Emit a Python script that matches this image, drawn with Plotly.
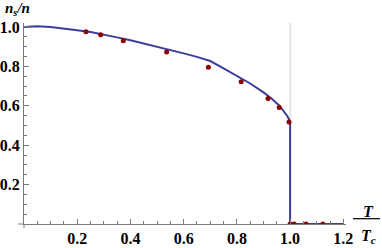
import plotly.graph_objects as go

# Theory curve (reduced temperature vs superfluid fraction)
curve_x = [0, 0.025, 0.05, 0.1, 0.15, 0.2, 0.25, 0.3, 0.35, 0.4, 0.45, 0.5, 0.55, 0.6,
           0.65, 0.7, 0.75, 0.8, 0.85, 0.9, 0.93, 0.96, 0.98, 0.99, 0.997, 1.0, 1.0, 1.2]
curve_y = [1.0, 1.003, 1.004, 1.0, 0.993, 0.983, 0.974, 0.962, 0.947, 0.932, 0.916, 0.9, 0.883, 0.866,
           0.848, 0.827, 0.79, 0.752, 0.713, 0.668, 0.637, 0.6, 0.567, 0.547, 0.528, 0.515, 0.0, 0.0]

# Measured points
data_x = [0.233, 0.288, 0.373, 0.536, 0.693, 0.816, 0.917, 0.959, 0.996, 1.0, 1.015, 1.06, 1.123]
data_y = [0.976, 0.961, 0.930, 0.873, 0.796, 0.722, 0.637, 0.591, 0.518, 0.0, 0.0, 0.0, 0.0]

x_ticks = [0.2, 0.4, 0.6, 0.8, 1.0, 1.2]
y_ticks = [0.2, 0.4, 0.6, 0.8, 1.0]

FONT = "Liberation Serif, Times New Roman, Times, serif"
AX = "#7a7a7a"

fig = go.Figure()
fig.add_trace(go.Scatter(x=curve_x, y=curve_y, mode="lines",
                         line=dict(color="#3d3d9e", width=2), hoverinfo="skip"))
fig.add_trace(go.Scatter(x=data_x, y=data_y, mode="markers",
                         marker=dict(color="#8b0000", size=5)))

W, H = 382, 248
ml, mr, mt, mb = 24, 36, 23, 24

fig.update_layout(
    template="none",
    width=W, height=H, showlegend=False,
    margin=dict(l=ml, r=mr, t=mt, b=mb),
    paper_bgcolor="white", plot_bgcolor="white",
    font=dict(family=FONT, size=16, color="black"),
    xaxis=dict(range=[0, 1.21], tickvals=x_ticks, ticktext=["<b>%.1f</b>" % v for v in x_ticks],
               automargin=False,
               showgrid=False, zeroline=False, showline=True, linecolor=AX, linewidth=1,
               ticks="inside", ticklen=5, tickcolor=AX, tickfont=dict(family=FONT, size=16),
               minor=dict(ticks="inside", dtick=0.05, ticklen=3, tickcolor=AX, showgrid=False)),
    yaxis=dict(range=[0, 1.02], tickvals=y_ticks, ticktext=["<b>%.1f</b>" % v for v in y_ticks],
               automargin=False,
               showgrid=False, zeroline=False, showline=True, linecolor=AX, linewidth=1,
               ticks="inside", ticklen=5, tickcolor=AX, tickfont=dict(family=FONT, size=16),
               minor=dict(ticks="inside", dtick=0.05, ticklen=3, tickcolor=AX, showgrid=False)),
)

pw = W - ml - mr
ph = H - mt - mb
# vertical reference line at T = Tc
fig.add_shape(type="line", xref="x", yref="paper", x0=1.0, x1=1.0, y0=0, y1=1,
              line=dict(color="#cccccc", width=1), layer="below")
# small axis overhangs (Mathematica-style crossing axes)
fig.add_shape(type="line", xref="paper", yref="paper", x0=-6 / pw, x1=0, y0=0, y1=0,
              line=dict(color=AX, width=1))
fig.add_shape(type="line", xref="paper", yref="paper", x0=0, x1=0, y0=-4 / ph, y1=0,
              line=dict(color=AX, width=1))

# axis labels
fig.add_annotation(xref="paper", yref="paper", x=(3 - ml) / pw, y=(H - mb - 9.5) / ph,
                   xanchor="left", yanchor="middle",
                   text="<b><i>n<sub>s</sub>/n</i></b>", showarrow=False, font=dict(family=FONT, size=15))
fig.add_annotation(xref="paper", yref="paper", x=(368 - ml) / pw, y=(H - mb - 211) / ph,
                   xanchor="center", yanchor="middle",
                   text="<b><i>T</i></b>", showarrow=False, font=dict(family=FONT, size=16))
fig.add_shape(type="line", xref="paper", yref="paper", x0=(353 - ml) / pw, x1=(380 - ml) / pw,
              y0=(H - mb - 218.7) / ph, y1=(H - mb - 218.7) / ph, line=dict(color="black", width=1.2))
fig.add_annotation(xref="paper", yref="paper", x=(368 - ml) / pw, y=(H - mb - 236) / ph,
                   xanchor="center", yanchor="middle",
                   text="<b><i>T<sub>c</sub></i></b>", showarrow=False, font=dict(family=FONT, size=16))

fig.write_html("out.html", config={"displayModeBar": False},
               post_script="document.body.style.margin='0';document.body.style.overflow='hidden';")
